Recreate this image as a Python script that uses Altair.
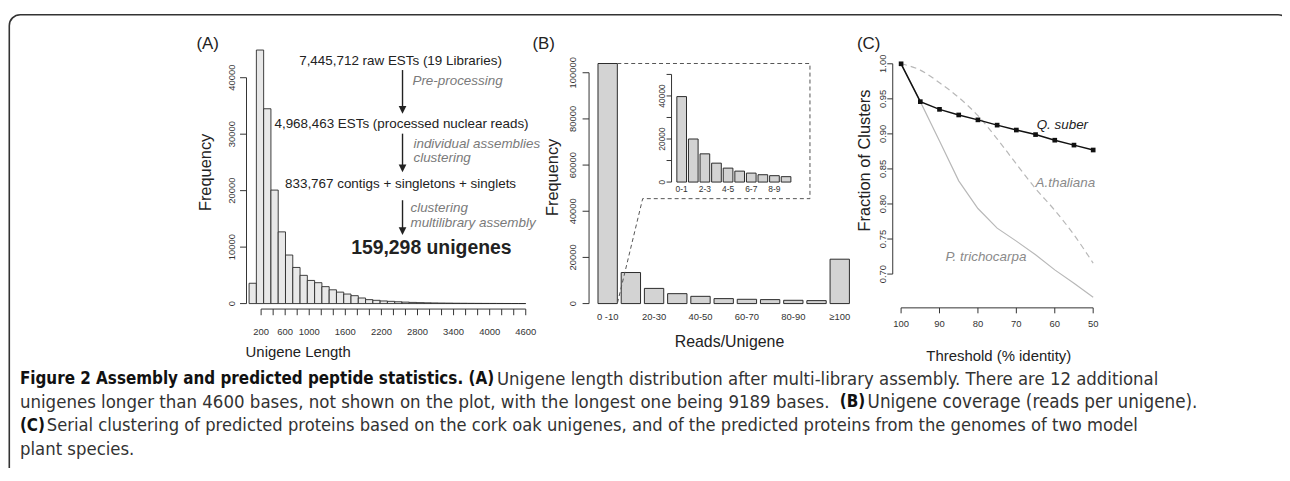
import altair as alt
import pandas as pd

# ---------------- data ----------------
# Panel A : unigene length histogram (38 equal bins over 0-4600 bases)
a_freq = [3600, 44900, 34500, 20100, 12700, 8600, 6400, 5000, 4100, 3700,
          3000, 2440, 2030, 1690, 1400, 990, 700, 580, 465, 400,
          320, 260, 210, 170, 140, 115, 95, 80, 65, 55,
          45, 38, 32, 27, 22, 18, 15, 12]
a_len_max = 4600
a_y_ticks = [0, 10000, 20000, 30000, 40000]
a_y_labels = ["0", "10000", "20000", "30000", "40000"]
a_x_ticks = list(range(200, 4601, 200))
a_x_labels = [200, 600, 1000, 1600, 2200, 2800, 3400, 4000, 4600]

# Panel B : reads per unigene
b_cats = ["0 -10", "10-20", "20-30", "30-40", "40-50", "50-60", "60-70",
          "70-80", "80-90", "90-100", "≥100"]
b_freq = [104000, 13460, 6580, 4300, 3140, 2150, 1860, 1720, 1430, 1290, 19230]
b_shown = ["0 -10", "20-30", "40-50", "60-70", "80-90", "≥100"]
b_y_ticks = [0, 20000, 40000, 60000, 80000, 100000]
b_y_labels = ["0", "20000", "40000", "60000", "80000", "100000"]

# inset of panel B
i_cats = ["0-1", "1-2", "2-3", "3-4", "4-5", "5-6", "6-7", "7-8", "8-9", "9-10"]
i_freq = [39700, 20000, 13100, 8780, 6470, 5080, 4160, 3400, 2960, 2500]
i_shown = ["0-1", "2-3", "4-5", "6-7", "8-9"]
i_y_ticks = [0, 10000, 20000, 30000, 40000, 50000]
i_y_label_vals = [0, 20000, 40000]
i_y_labels = ["0", "20000", "40000"]

# Panel C : serial clustering
c_thr = [100, 95, 90, 85, 80, 75, 70, 65, 60, 55, 50]
c_qsuber = [1.000, 0.946, 0.935, 0.927, 0.920, 0.9125, 0.9055, 0.899, 0.891, 0.884, 0.877]
c_athal = [1.000, 0.991, 0.973, 0.952, 0.926, 0.893, 0.857, 0.822, 0.791, 0.756, 0.7155]
c_ptri = [1.000, 0.946, 0.890, 0.833, 0.7935, 0.7655, 0.747, 0.7275, 0.706, 0.687, 0.667]
c_y_ticks = [0.70, 0.75, 0.80, 0.85, 0.90, 0.95, 1.00]
c_y_labels = ["0.70", "0.75", "0.80", "0.85", "0.90", "0.95", "1.00"]
c_x_ticks = [100, 90, 80, 70, 60, 50]

caption = [
    [("Figure 2 Assembly and predicted peptide statistics. (A)", "bold", 20, 17),
     ("Unigene length distribution after multi-library assembly. There are 12 additional", "normal", 500, 18.5)],
    [("unigenes longer than 4600 bases, not shown on the plot, with the longest one being 9189 bases.", "normal", 20, 18.6),
     ("(B)", "bold", 845, 17),
     ("Unigene coverage (reads per unigene).", "normal", 873, 18.8)],
    [("(C)", "bold", 20, 17),
     ("Serial clustering of predicted proteins based on the cork oak unigenes, and of the predicted proteins from the genomes of two model", "normal", 47, 18.3)],
    [("plant species.", "normal", 20, 18.5)],
]
caption_y = [380, 403.5, 427, 450.5]

# ---------------- helpers ----------------
FONT = "Liberation Sans"
CAPFONT = "Liberation Sans Narrow, DejaVu Sans Condensed, Liberation Sans"
INK = "#222222"
AX = "#333333"
TICKFS = 9.5
ONE = pd.DataFrame({"_": [0]})


def P(v):
    return v - 8


def sc(domain, a, b):
    return alt.Scale(domain=domain, range=[P(a), P(b)], nice=False, zero=False)


def label(text, x, y, size=13.5, color=INK, style="normal", weight="normal",
          angle=0, align="center", font=FONT):
    return alt.Chart(ONE).mark_text(
        text=text, fontSize=size, color=color, fontStyle=style, fontWeight=weight,
        angle=angle, align=align, baseline="middle", font=font
    ).encode(x=alt.value(P(x)), y=alt.value(P(y)))


def yaxis(ticks, lab_vals, labs, scale, x_line, tick_len, x_lab, fs=TICKFS):
    out = []
    out.append(alt.Chart(pd.DataFrame({"lo": [min(ticks)], "hi": [max(ticks)]}))
               .mark_rule(color=AX, strokeWidth=1)
               .encode(y=alt.Y("lo:Q", scale=scale, axis=None), y2="hi:Q",
                       x=alt.value(P(x_line))))
    out.append(alt.Chart(pd.DataFrame({"v": ticks}))
               .mark_rule(color=AX, strokeWidth=1)
               .encode(y=alt.Y("v:Q", scale=scale, axis=None),
                       x=alt.value(P(x_line - tick_len)), x2=alt.value(P(x_line))))
    out.append(alt.Chart(pd.DataFrame({"v": lab_vals, "t": labs}))
               .mark_text(angle=270, fontSize=fs, color=AX, font=FONT, baseline="middle")
               .encode(y=alt.Y("v:Q", scale=scale, axis=None), text="t:N",
                       x=alt.value(P(x_lab))))
    return out


def xaxis(ticks, lab_vals, scale, y_line, tick_len, y_lab, fs=TICKFS):
    out = []
    out.append(alt.Chart(pd.DataFrame({"lo": [ticks[0]], "hi": [ticks[-1]]}))
               .mark_rule(color=AX, strokeWidth=1)
               .encode(x=alt.X("lo:Q", scale=scale, axis=None), x2="hi:Q",
                       y=alt.value(P(y_line))))
    out.append(alt.Chart(pd.DataFrame({"v": ticks}))
               .mark_rule(color=AX, strokeWidth=1)
               .encode(x=alt.X("v:Q", scale=scale, axis=None),
                       y=alt.value(P(y_line)), y2=alt.value(P(y_line + tick_len))))
    out.append(alt.Chart(pd.DataFrame({"v": lab_vals, "t": [str(v) for v in lab_vals]}))
               .mark_text(fontSize=fs, color=AX, font=FONT, baseline="middle")
               .encode(x=alt.X("v:Q", scale=scale, axis=None), text="t:N",
                       y=alt.value(P(y_lab))))
    return out


def arrow(x, y0, y1):
    return [
        alt.Chart(ONE).mark_rule(color=INK, strokeWidth=1.4).encode(
            x=alt.value(P(x)), y=alt.value(P(y0)), y2=alt.value(P(y1 - 5))),
        alt.Chart(ONE).mark_point(shape="M-1,-1L1,-1L0,1Z", filled=True, size=60,
                                  color=INK, opacity=1).encode(
            x=alt.value(P(x)), y=alt.value(P(y1 - 4))),
    ]


layers = []

# frame
layers.append(alt.Chart(ONE).mark_rect(fill=None, stroke="#333333", strokeWidth=1.6,
                                       cornerRadius=11).encode(
    x=alt.value(P(9.3)), y=alt.value(P(13.3)), x2=alt.value(P(1297)), y2=alt.value(P(620))))

# ---------------- Panel A ----------------
xA = sc([0, a_len_max], 250.6, 529)
yA = sc([0, 40000], 304, 76.7)
nA = len(a_freq)
bw = a_len_max / nA
dfA = pd.DataFrame({"x0": [i * bw for i in range(nA)],
                    "x1": [(i + 1) * bw for i in range(nA)],
                    "f": a_freq, "z": [0] * nA})
layers.append(alt.Chart(dfA).mark_rect(fill="#e8e8e8", stroke="#2a2a2a", strokeWidth=0.9).encode(
    x=alt.X("x0:Q", scale=xA, axis=None), x2="x1:Q",
    y=alt.Y("f:Q", scale=yA, axis=None), y2="z:Q"))
layers += yaxis(a_y_ticks, a_y_ticks, a_y_labels, yA, 248, 6.5, 233)
layers += xaxis(a_x_ticks, a_x_labels, xA, 309.5, 6.2, 332.5)
layers.append(label("(A)", 209, 43, size=17))
layers.append(label("Frequency", 207, 172, size=16.5, angle=270))
layers.append(label("Unigene Length", 300, 353, size=15))

layers.append(label("7,445,712 raw ESTs (19 Libraries)", 403, 60))
layers += arrow(405, 69, 113)
layers.append(label("Pre-processing", 415, 80, color="#7a7a7a", style="italic", align="left"))
layers.append(label("4,968,463 ESTs (processed nuclear reads)", 404, 123))
layers += arrow(405, 133, 172)
layers.append(label("individual assemblies", 416, 143, color="#7a7a7a", style="italic", align="left"))
layers.append(label("clustering", 416, 158, color="#7a7a7a", style="italic", align="left"))
layers.append(label("833,767 contigs + singletons + singlets", 403, 184))
layers += arrow(405, 200, 235)
layers.append(label("clustering", 413, 208, color="#7a7a7a", style="italic", align="left"))
layers.append(label("multilibrary assembly", 413, 223, color="#7a7a7a", style="italic", align="left"))
layers.append(label("159,298 unigenes", 434, 248, size=19.5, weight="bold"))

# ---------------- Panel B ----------------
xB = sc([0, 13.2], 597.8, 854.7)
yB = sc([0, 100000], 304, 71.7)
nB = len(b_freq)
dfB = pd.DataFrame({"cat": b_cats,
                    "x0": [0.2 + 1.2 * i for i in range(nB)],
                    "x1": [1.2 + 1.2 * i for i in range(nB)],
                    "xm": [0.7 + 1.2 * i for i in range(nB)],
                    "f": b_freq, "z": [0] * nB})
layers.append(alt.Chart(dfB).mark_rect(fill="#d3d3d3", stroke="#2a2a2a", strokeWidth=1).encode(
    x=alt.X("x0:Q", scale=xB, axis=None), x2="x1:Q",
    y=alt.Y("f:Q", scale=yB, axis=None), y2="z:Q"))
layers.append(alt.Chart(dfB[dfB["cat"].isin(b_shown)]).mark_text(
    fontSize=TICKFS, color=AX, font=FONT, baseline="middle").encode(
    x=alt.X("xm:Q", scale=xB, axis=None), text="cat:N", y=alt.value(P(318))))
layers += yaxis(b_y_ticks, b_y_ticks, b_y_labels, yB, 592.7, 6.5, 577)
layers.append(label("(B)", 547, 43, size=17))
layers.append(label("Frequency", 556, 177, size=16.5, angle=270))
layers.append(label("Reads/Unigene", 734, 343, size=16))

# zoom box (dashed) from first bar to the inset
box = pd.DataFrame({"o": [0, 1, 2, 3, 4],
                    "x": [1.2, 11.16, 11.16, 2.51, 1.2],
                    "y": [b_freq[0], b_freq[0], 45460, 45460, 0]})
layers.append(alt.Chart(box).mark_line(color="#555555", strokeWidth=1, strokeDash=[4, 3]).encode(
    x=alt.X("x:Q", scale=xB, axis=None), y=alt.Y("y:Q", scale=yB, axis=None), order="o:Q"))

# inset
xI = sc([0, 12], 679.1, 795.8)
yI = sc([0, 50000], 181.7, 73.4)
nI = len(i_freq)
dfI = pd.DataFrame({"cat": i_cats,
                    "x0": [0.2 + 1.2 * i for i in range(nI)],
                    "x1": [1.2 + 1.2 * i for i in range(nI)],
                    "xm": [0.7 + 1.2 * i for i in range(nI)],
                    "f": i_freq, "z": [0] * nI})
layers.append(alt.Chart(dfI).mark_rect(fill="#d3d3d3", stroke="#2a2a2a", strokeWidth=1).encode(
    x=alt.X("x0:Q", scale=xI, axis=None), x2="x1:Q",
    y=alt.Y("f:Q", scale=yI, axis=None), y2="z:Q"))
layers.append(alt.Chart(dfI[dfI["cat"].isin(i_shown)]).mark_text(
    fontSize=8.5, color=AX, font=FONT, baseline="middle").encode(
    x=alt.X("xm:Q", scale=xI, axis=None), text="cat:N", y=alt.value(P(189))))
layers += yaxis(i_y_ticks, i_y_label_vals, i_y_labels, yI, 675.7, 5, 666.5, fs=8.5)

# ---------------- Panel C ----------------
xC = sc([100, 50], 906.7, 1100)
yC = sc([0.70, 1.00], 274.3, 62.7)
dfC = pd.DataFrame({"t": c_thr * 3,
                    "v": c_qsuber + c_athal + c_ptri,
                    "s": ["Q. suber"] * len(c_thr) + ["A.thaliana"] * len(c_thr)
                         + ["P. trichocarpa"] * len(c_thr)})
layers.append(alt.Chart(dfC[dfC["s"] == "A.thaliana"]).mark_line(
    color="#b8b8b8", strokeWidth=1.2, strokeDash=[6, 4], interpolate="monotone").encode(
    x=alt.X("t:Q", scale=xC, axis=None), y=alt.Y("v:Q", scale=yC, axis=None)))
layers.append(alt.Chart(dfC[dfC["s"] == "P. trichocarpa"]).mark_line(
    color="#b8b8b8", strokeWidth=1.2).encode(
    x=alt.X("t:Q", scale=xC, axis=None), y=alt.Y("v:Q", scale=yC, axis=None)))
layers.append(alt.Chart(dfC[dfC["s"] == "Q. suber"]).mark_line(
    color="#111111", strokeWidth=1.5).encode(
    x=alt.X("t:Q", scale=xC, axis=None), y=alt.Y("v:Q", scale=yC, axis=None)))
layers.append(alt.Chart(dfC[dfC["s"] == "Q. suber"]).mark_point(
    shape="square", filled=True, size=22, color="#111111", opacity=1).encode(
    x=alt.X("t:Q", scale=xC, axis=None), y=alt.Y("v:Q", scale=yC, axis=None)))
layers += yaxis(c_y_ticks, c_y_ticks, c_y_labels, yC, 898.3, 5.5, 889)
layers += xaxis(c_x_ticks, c_x_ticks, xC, 308.3, 5.5, 325)
layers.append(label("(C)", 874, 43, size=17))
layers.append(label("Fraction of Clusters", 870, 160, size=16.5, angle=270))
layers.append(label("Threshold (% identity)", 1005, 357, size=15))
layers.append(label("Q. suber", 1069, 124, style="italic"))
layers.append(label("A.thaliana", 1072, 183, color="#8a8a8a", style="italic"))
layers.append(label("P. trichocarpa", 992, 257, color="#8a8a8a", style="italic"))

# ---------------- caption ----------------
for line, yy in zip(caption, caption_y):
    for txt, wt, x0, fs in line:
        bold = wt == "bold"
        layers.append(label(txt, x0, yy, size=fs,
                            color="#111111" if bold else "#333333",
                            weight=wt, align="left", font=CAPFONT))

chart = alt.layer(*layers).resolve_scale(x="independent", y="independent").properties(
    width=1282, height=460, padding=0,
    autosize=alt.AutoSizeParams(type="none"),
    background="white",
).configure_view(stroke=None)

chart.save("out.html", embed_options={"renderer": "svg", "actions": False})
